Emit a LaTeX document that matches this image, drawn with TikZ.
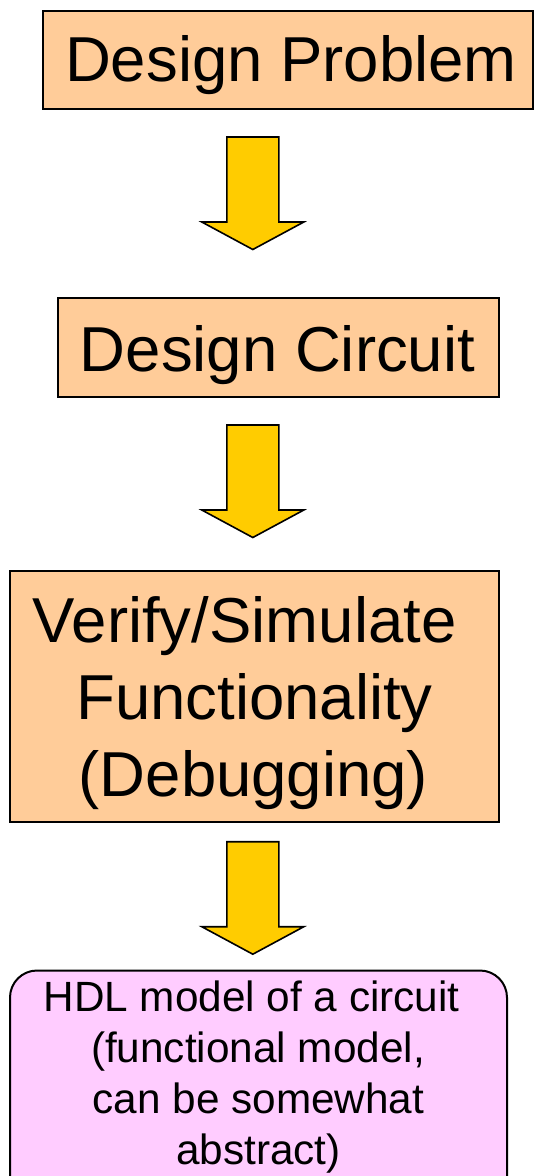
\documentclass[tikz,border=0pt]{standalone}
\usepackage{fontspec}
\setmainfont{Liberation Sans}
\definecolor{boxorange}{HTML}{FFCC99}
\definecolor{arrowyellow}{HTML}{FFCC00}
\definecolor{boxpink}{HTML}{FFCCFF}
\tikzset{
  obox/.style={draw=black, line width=2pt, fill=boxorange, rectangle, inner sep=0pt},
  pbox/.style={draw=black, line width=2pt, fill=boxpink, rectangle, rounded corners=27pt, inner sep=0pt},
  bigtxt/.style={inner sep=0pt, anchor=base, font=\fontsize{63.5}{76}\selectfont},
  smalltxt/.style={inner sep=0pt, anchor=base, font=\fontsize{42.3}{50}\selectfont},
  blockarrow/.style={draw=black, line width=1.6pt, fill=arrowyellow, line join=miter},
  downarrow/.pic={\draw[blockarrow] (-26,0) -- (26,0) -- (26,85) -- (51,85) -- (0,112.5) -- (-51,85) -- (-26,85) -- cycle;}
}
\begin{document}
\begin{tikzpicture}[x=1pt,y=-1pt]
\useasboundingbox (0,0) rectangle (535,1176);
\clip (0,0) rectangle (535,1176);
% boxes
\node[obox, anchor=north west, minimum width=490.6pt, minimum height=97.7pt] (prob) at (41.7,10) {};
\node[obox, anchor=north west, minimum width=440.4pt, minimum height=98.7pt] (circ) at (57.3,297.3) {};
\node[obox, anchor=north west, minimum width=488.4pt, minimum height=250.7pt] (ver) at (9.3,570) {};
\node[pbox, anchor=north west, minimum width=497pt, minimum height=240pt] (hdl) at (9,969.5) {};
% texts
\node[bigtxt] (tprob) at (291,81.7) {Design Problem};
\node[bigtxt] (tcirc) at (277.5,371) {Design Circuit};
\node[bigtxt] (tver1) at (253.5,642.7) {Verify/Simulate\kern0.278em};
\node[bigtxt] (tver2) at (254.5,719.3) {Functionality};
\node[bigtxt] (tver3) at (253.5,796) {(Debugging)};
\node[smalltxt] (thdl1) at (257.5,1011.7) {HDL model of a circuit\kern0.278em};
\node[smalltxt] (thdl2) at (258,1062.7) {(functional model,};
\node[smalltxt] (thdl3) at (258.5,1113.7) {can be somewhat};
\node[smalltxt] (thdl4) at (258.5,1164.7) {abstract)};
% block arrows
\pic (a1) at (252.8,137) {downarrow};
\pic (a2) at (252.8,425) {downarrow};
\pic (a3) at (252.8,841.7) {downarrow};
\end{tikzpicture}
\end{document}
